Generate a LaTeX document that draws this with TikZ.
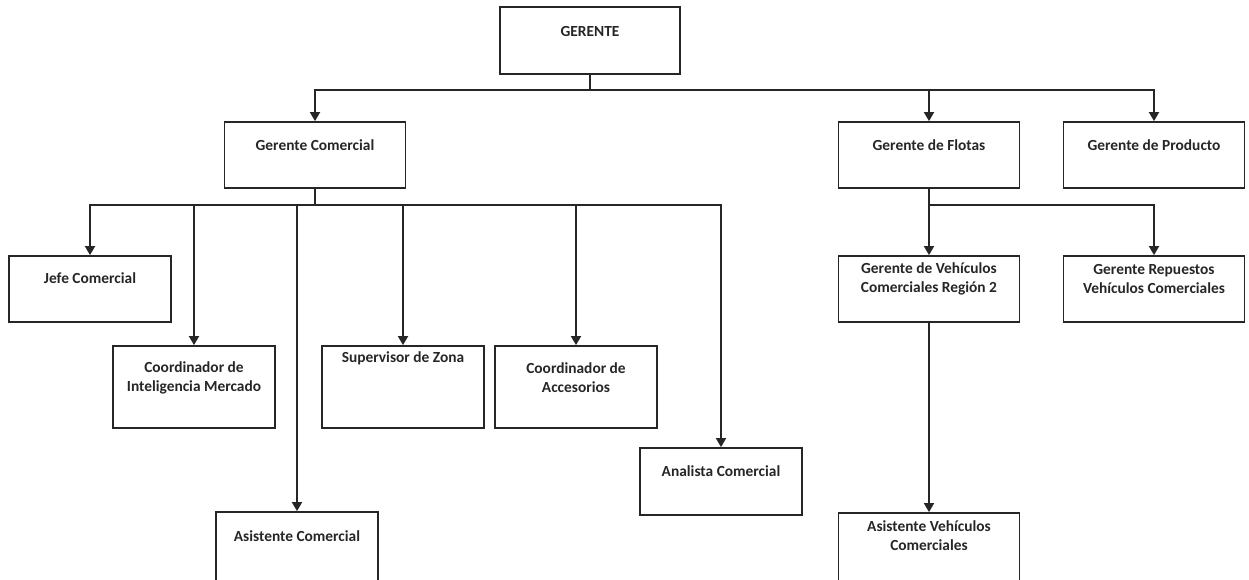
\documentclass[tikz,border=0pt]{standalone}
\usepackage{fontspec}
\setmainfont{Carlito}
\usetikzlibrary{arrows.meta}
\begin{document}
\begin{tikzpicture}[x=1pt,y=-1pt,
  box/.style={draw=black!85, line width=1.8pt, inner sep=0pt, minimum height=66pt},
  wbox/.style={box, minimum width=181pt},
  nbox/.style={box, minimum width=162pt},
  lbl/.style={font=\fontsize{15.4}{19}\selectfont\bfseries, text=black!85, align=center, inner sep=0pt},
  link/.style={draw=black!85, line width=1.8pt},
  arr/.style={link, -{Triangle[length=9pt,width=10pt]}}
]
\useasboundingbox (0,0) rectangle (1249,579);
\clip (0,0) rectangle (1249,579);

% top level
\node[box, minimum width=180pt, minimum height=67pt] (ger) at (590,40.5) {};
\node[lbl] (ger-t) at ([yshift=-25pt]ger.north) {GERENTE};

% second level
\node[wbox] (gc) at (315,155) {};
\node[lbl] (gc-t) at ([yshift=-24pt]gc.north) {Gerente Comercial};
\node[wbox] (gf) at (929,155) {};
\node[lbl] (gf-t) at ([yshift=-24pt]gf.north) {Gerente de Flotas};
\node[wbox] (gp) at (1154,155) {};
\node[lbl] (gp-t) at ([yshift=-24pt]gp.north) {Gerente de Producto};

% under Gerente Comercial
\node[nbox] (jc) at (90,289) {};
\node[lbl] (jc-t) at ([yshift=-23pt]jc.north) {Jefe Comercial};
\node[nbox, minimum height=82pt] (ci) at (194,387) {};
\node[lbl] (ci-t) at ([yshift=-32.5pt]ci.north) {Coordinador de\\Inteligencia Mercado};
\node[nbox, minimum height=82pt] (sz) at (403,387) {};
\node[lbl] (sz-t) at ([yshift=-13pt]sz.north) {Supervisor de Zona};
\node[nbox, minimum height=82pt] (ca) at (576,387) {};
\node[lbl] (ca-t) at ([yshift=-32.5pt]ca.north) {Coordinador de\\Accesorios};
\node[nbox, minimum height=67pt] (an) at (721,481.5) {};
\node[lbl] (an-t) at ([yshift=-24pt]an.north) {Analista Comercial};
\node[nbox, minimum height=80pt] (as) at (297,552) {};
\node[lbl] (as-t) at ([yshift=-25pt]as.north) {Asistente Comercial};

% under Gerente de Flotas
\node[wbox] (gv) at (929,289) {};
\node[lbl] (gv-t) at ([yshift=-23.5pt]gv.north) {Gerente de Vehículos\\Comerciales Región 2};
\node[wbox] (gr) at (1154,289) {};
\node[lbl] (gr-t) at ([yshift=-23.5pt]gr.north) {Gerente Repuestos\\Vehículos Comerciales};
\node[wbox, minimum height=80pt] (av) at (929,553) {};
\node[lbl] (av-t) at ([yshift=-24pt]av.north) {Asistente Vehículos\\Comerciales};

% connectors
\coordinate (b1) at (590,90);
\coordinate (b2) at (315,205);
\coordinate (b3) at (929,205);

\draw[link] (ger.south) -- (b1);
\draw[arr] (b1) -| (gc.north);
\draw[arr] (b1) -| (gf.north);
\draw[arr] (b1) -| (gp.north);

\draw[link] (gc.south) -- (b2);
\draw[arr] (b2) -| (jc.north);
\draw[arr] (b2) -| (ci.north);
\draw[arr] (b2) -| (as.north);
\draw[arr] (b2) -| (sz.north);
\draw[arr] (b2) -| (ca.north);
\draw[arr] (b2) -| (an.north);

\draw[link] (gf.south) -- (b3);
\draw[arr] (b3) -| (gv.north);
\draw[arr] (b3) -| (gr.north);

\draw[arr] (gv.south) -- (av.north);
\end{tikzpicture}
\end{document}
